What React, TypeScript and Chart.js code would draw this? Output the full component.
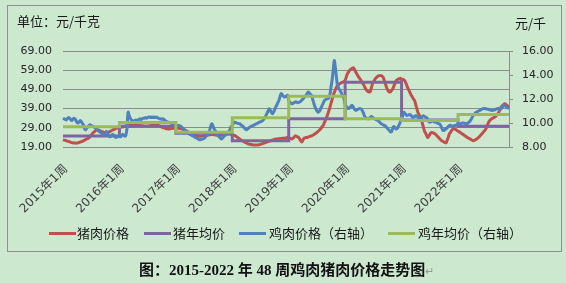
import React, { useEffect, useRef } from 'react';
import { Chart, registerables } from 'chart.js';
Chart.register(...registerables);

const years = [2015, 2016, 2017, 2018, 2019, 2020, 2021, 2022];
const weeksPerYear = [52, 52, 52, 52, 52, 52, 52, 48];

const pork2015 = [
  22.8, 22.6, 22.5, 22.3, 22.1, 21.9, 21.7, 21.5, 21.3, 21.2, 21.1, 21.1, 21.0,
  21.1, 21.2, 21.4, 21.6, 21.8, 22.0, 22.3, 22.6, 22.9, 23.2, 23.5, 23.9, 24.5,
  25.2, 25.9, 26.5, 27.0, 27.5, 27.9, 28.0, 27.8, 27.5, 27.2, 27.0, 26.8, 26.6,
  26.5, 26.5, 26.6, 26.8, 27.0, 27.3, 27.6, 27.9, 28.2, 28.5, 28.7, 28.9, 29.0,
];
const pork2016 = [
  29.0, 29.2, 29.4, 29.5, 29.6, 29.8, 29.9, 30.0, 30.0, 30.1, 30.2, 30.3, 30.4,
  30.5, 30.6, 30.8, 30.9, 31.0, 31.1, 31.2, 31.3, 31.4, 31.5, 31.6, 31.6, 31.7,
  31.6, 31.5, 31.4, 31.3, 31.2, 31.1, 31.0, 30.8, 30.6, 30.4, 30.2, 30.0, 29.7,
  29.4, 29.2, 29.0, 28.8, 28.6, 28.5, 28.4, 28.4, 28.5, 28.6, 28.7, 28.8, 28.9,
];
const pork2017 = [
  29.0, 28.9, 28.8, 28.7, 28.6, 28.5, 28.3, 28.1, 27.8, 27.5, 27.2, 26.9, 26.6,
  26.3, 26.0, 25.7, 25.5, 25.3, 25.1, 24.9, 24.8, 24.7, 24.6, 24.6, 24.7, 24.8,
  24.9, 25.0, 25.1, 25.2, 25.3, 25.4, 25.4, 25.5, 25.5, 25.4, 25.3, 25.2, 25.1,
  25.0, 25.0, 25.1, 25.2, 25.3, 25.4, 25.5, 25.6, 25.7, 25.8, 25.8, 25.7, 25.5,
];
const pork2018 = [
  25.4, 25.2, 25.0, 24.7, 24.3, 23.9, 23.5, 23.1, 22.7, 22.3, 22.0, 21.7, 21.4,
  21.1, 20.8, 20.6, 20.4, 20.3, 20.2, 20.1, 20.0, 20.0, 20.0, 20.0, 20.1, 20.2,
  20.4, 20.6, 20.8, 21.0, 21.2, 21.4, 21.6, 21.8, 22.0, 22.2, 22.4, 22.6, 22.8,
  23.0, 23.1, 23.2, 23.3, 23.3, 23.4, 23.4, 23.5, 23.5, 23.6, 23.7, 23.8, 24.0,
];
const pork2019 = [
  23.8, 23.6, 23.4, 23.2, 23.6, 24.2, 24.8, 24.6, 24.3, 24.0, 23.2, 22.3, 21.6,
  22.5, 23.5, 23.8, 24.0, 24.0, 24.2, 24.4, 24.6, 24.8, 25.1, 25.4, 25.8, 26.2,
  26.6, 27.1, 27.6, 28.2, 28.9, 29.7, 30.5, 31.8, 33.2, 34.5, 36.2, 37.9, 39.7,
  41.7, 43.8, 45.9, 47.4, 48.8, 50.2, 50.9, 51.5, 52.0, 52.3, 52.6, 52.8, 53.2,
];
const pork2020 = [
  53.5, 55.5, 57.0, 58.0, 58.8, 59.4, 59.8, 60.2, 60.0, 59.0, 57.8, 56.8, 55.8,
  55.0, 54.3, 53.2, 52.3, 51.5, 50.3, 49.2, 48.4, 47.9, 47.6, 47.8, 49.5, 51.5,
  52.8, 53.8, 54.7, 55.3, 55.8, 56.1, 56.3, 56.2, 55.9, 55.3, 53.8, 52.0, 50.3,
  49.0, 48.0, 47.6, 47.9, 48.6, 49.4, 50.8, 52.3, 53.5, 54.0, 54.4, 54.6, 54.8,
];
const pork2021 = [
  54.0, 54.3, 54.1, 53.5, 52.3, 50.8, 49.4, 48.3, 47.1, 45.9, 45.0, 44.0, 43.2,
  41.2, 39.2, 37.1, 36.0, 34.8, 33.7, 31.6, 29.6, 27.5, 26.3, 25.1, 24.0, 24.6,
  25.5, 26.4, 26.6, 26.4, 26.1, 25.8, 25.2, 24.6, 24.0, 23.4, 22.8, 22.3, 22.0,
  21.6, 21.3, 21.2, 22.5, 24.0, 25.8, 26.6, 27.5, 28.2, 28.4, 28.3, 28.1, 27.6,
];
const pork2022 = [
  27.3, 27.0, 26.6, 26.2, 25.8, 25.4, 25.0, 24.6, 24.2, 23.8, 23.5, 23.2,
  22.9, 22.5, 22.3, 22.5, 22.8, 23.1, 23.5, 24.0, 24.6, 25.2, 25.8, 26.5,
  27.2, 27.8, 28.8, 30.2, 31.6, 32.6, 33.2, 33.7, 34.0, 34.3, 34.6, 35.1,
  35.8, 36.5, 37.6, 38.9, 40.0, 40.6, 41.0, 41.5, 41.3, 40.8, 40.2, 39.6,
];
const porkAvg = [24.7, 29.8, 26.1, 22.3, 33.7, 52.7, 33.1, 29.8];

const chicken2015 = [
  10.4, 10.35, 10.3, 10.25, 10.35, 10.45, 10.4, 10.3, 10.2, 10.3, 10.4, 10.35, 10.2,
  10.05, 10.0, 10.1, 10.2, 10.1, 9.95, 9.8, 9.5, 9.45, 9.6, 9.7, 9.8, 9.85,
  9.8, 9.75, 9.7, 9.65, 9.55, 9.5, 9.4, 9.3, 9.25, 9.2, 9.1, 9.0, 8.95,
  9.1, 9.3, 9.2, 9.0, 8.85, 8.9, 9.0, 9.05, 8.95, 8.85, 8.8, 8.85, 8.9,
];
const chicken2016 = [
  8.9, 8.85, 8.95, 9.05, 9.0, 8.9, 9.0, 9.6, 10.9, 10.6, 10.4, 10.25, 10.2,
  10.15, 10.2, 10.25, 10.2, 10.25, 10.3, 10.35, 10.3, 10.35, 10.4, 10.4, 10.45, 10.4,
  10.45, 10.5, 10.5, 10.45, 10.5, 10.45, 10.5, 10.45, 10.49, 10.45, 10.4, 10.35, 10.35,
  10.3, 10.35, 10.3, 10.2, 10.15, 10.1, 10.07, 10.05, 10.0, 9.95, 9.93, 9.9, 9.85,
];
const chicken2017 = [
  9.85, 9.8, 9.78, 9.79, 9.75, 9.7, 9.6, 9.5, 9.43, 9.38, 9.3, 9.2, 9.1,
  9.05, 9.0, 8.95, 8.9, 8.85, 8.8, 8.75, 8.7, 8.65, 8.6, 8.62, 8.65, 8.67,
  8.72, 8.8, 8.9, 9.0, 9.1, 9.35, 9.7, 9.93, 9.8, 9.55, 9.4, 9.25, 9.1,
  8.95, 8.85, 8.75, 8.67, 8.75, 8.85, 8.95, 9.0, 9.05, 9.1, 9.3, 9.5, 9.7,
];
const chicken2018 = [
  9.8, 9.95, 10.07, 10.05, 10.0, 9.97, 9.95, 9.93, 9.85, 9.78, 9.7, 9.6, 9.5,
  9.43, 9.5, 9.58, 9.65, 9.7, 9.75, 9.79, 9.83, 9.88, 9.93, 9.97, 10.02, 10.07,
  10.1, 10.15, 10.2, 10.3, 10.45, 10.63, 10.8, 11.0, 11.19, 11.05, 10.9, 10.77, 10.9,
  11.1, 11.33, 11.5, 11.7, 11.89, 12.2, 12.45, 12.35, 12.25, 12.17, 12.2, 12.25, 12.3,
];
const chicken2019 = [
  11.85, 11.75, 11.65, 11.6, 11.65, 11.7, 11.75, 11.75, 11.7, 11.7, 11.75, 11.8, 11.89,
  12.0, 12.1, 12.2, 12.3, 12.45, 12.58, 12.5, 12.4, 12.3, 12.0, 11.7, 11.4, 11.2,
  11.0, 10.9, 10.95, 11.1, 11.3, 11.5, 11.7, 11.89, 11.95, 12.0, 12.03, 12.1, 12.4,
  13.0, 13.6, 14.4, 15.2, 14.6, 13.8, 13.1, 12.9, 12.73, 12.6, 12.4, 12.2, 12.0,
];
const chicken2020 = [
  11.6, 11.4, 11.3, 11.2, 11.25, 11.35, 11.47, 11.4, 11.25, 11.1, 11.05, 11.1, 11.15,
  11.2, 11.2, 11.15, 11.0, 10.8, 10.55, 10.45, 10.4, 10.35, 10.35, 10.45, 10.55, 10.5,
  10.4, 10.35, 10.3, 10.25, 10.2, 10.15, 10.05, 9.95, 9.9, 9.85, 9.8, 9.75, 9.65,
  9.55, 9.45, 9.35, 9.25, 9.3, 9.6, 9.7, 9.6, 9.5, 9.55, 9.7, 9.9, 10.1,
];
const chicken2021 = [
  10.3, 10.6, 10.9, 10.8, 10.7, 10.63, 10.65, 10.7, 10.7, 10.6, 10.5, 10.49, 10.55,
  10.6, 10.6, 10.5, 10.4, 10.35, 10.45, 10.55, 10.6, 10.55, 10.5, 10.45, 10.3, 10.15,
  10.07, 10.1, 10.15, 10.15, 10.1, 10.07, 10.05, 10.0, 9.95, 9.93, 9.8, 9.6, 9.4,
  9.37, 9.45, 9.51, 9.6, 9.7, 9.79, 9.8, 9.75, 9.75, 9.75, 9.79, 9.8, 9.85,
];
const chicken2022 = [
  9.85, 9.9, 9.93, 9.97, 10.0, 10.0, 9.97, 9.95, 9.93, 10.0, 10.07, 10.15,
  10.3, 10.45, 10.63, 10.75, 10.85, 10.9, 10.95, 11.0, 11.05, 11.1, 11.15, 11.19,
  11.2, 11.2, 11.18, 11.15, 11.15, 11.1, 11.08, 11.05, 11.05, 11.08, 11.1, 11.15,
  11.19, 11.2, 11.18, 11.15, 11.2, 11.35, 11.47, 11.45, 11.38, 11.3, 11.25, 11.2,
];
const chickenAvg = [9.68, 10.04, 9.23, 10.43, 12.22, 10.35, 10.2, 10.71];

const leftAxis = { min: 19, max: 69, step: 10 };
const rightAxis = { min: 8, max: 16, step: 2 };

const seriesNames = ['猪肉价格', '猪年均价', '鸡肉价格（右轴）', '鸡年均价（右轴）'];
const seriesColors = ['#C0504D', '#8064A2', '#4F81BD', '#9BBB59'];

const porkByYear = [pork2015, pork2016, pork2017, pork2018, pork2019, pork2020, pork2021, pork2022];
const chickenByYear = [chicken2015, chicken2016, chicken2017, chicken2018, chicken2019, chicken2020, chicken2021, chicken2022];

const labels: string[] = [];
const porkAvgSeries: number[] = [];
const chickenAvgSeries: number[] = [];
years.forEach((y, i) => {
  for (let w = 1; w <= weeksPerYear[i]; w++) {
    labels.push(`${y}年${w}周`);
    porkAvgSeries.push(porkAvg[i]);
    chickenAvgSeries.push(chickenAvg[i]);
  }
});
const porkSeries = porkByYear.flat();
const chickenSeries = chickenByYear.flat();

const yTickFont = { family: '"DejaVu Sans", "Noto Sans CJK SC", sans-serif', size: 11 };
const xTickFont = { family: '"DejaVu Sans", "Noto Sans CJK SC", sans-serif', size: 12 };

export default function App() {
  const ref = useRef<HTMLCanvasElement | null>(null);
  useEffect(() => {
    document.body.style.margin = '0';
    const chart = new Chart(ref.current!, {
      type: 'line',
      data: {
        labels,
        datasets: [
          { label: seriesNames[0], data: porkSeries, borderColor: seriesColors[0], borderWidth: 3, yAxisID: 'y', tension: 0.3, order: 3 },
          { label: seriesNames[1], data: porkAvgSeries, borderColor: seriesColors[1], borderWidth: 3, yAxisID: 'y', stepped: true, order: 2 },
          { label: seriesNames[2], data: chickenSeries, borderColor: seriesColors[2], borderWidth: 3, yAxisID: 'y1', tension: 0.3, order: 1 },
          { label: seriesNames[3], data: chickenAvgSeries, borderColor: seriesColors[3], borderWidth: 3, yAxisID: 'y1', stepped: true, order: 0 },
        ],
      },
      options: {
        animation: false,
        responsive: false,
        events: [],
        layout: { padding: { top: 51, left: 0, right: 0, bottom: 0 } },
        elements: { point: { radius: 0 } },
        plugins: { legend: { display: false }, tooltip: { enabled: false } },
        scales: {
          x: {
            type: 'category',
            grid: { display: false },
            border: { display: false },
            afterFit: (s: any) => { s.height = 136; },
            ticks: {
              autoSkip: false,
              minRotation: 45,
              maxRotation: 45,
              padding: 7,
              labelOffset: 3,
              color: '#404040',
              font: xTickFont,
              callback: (_v: any, i: number) => (i % 52 === 0 ? labels[i] : ''),
            },
          },
          y: {
            position: 'left',
            min: leftAxis.min,
            max: leftAxis.max,
            afterFit: (s: any) => { s.width = 63; },
            grid: { color: '#8c8c8c', lineWidth: 1, drawTicks: false },
            border: { display: false },
            ticks: { stepSize: leftAxis.step, padding: 11, color: '#262626', font: yTickFont, callback: (v: any) => Number(v).toFixed(2) },
          },
          y1: {
            position: 'right',
            min: rightAxis.min,
            max: rightAxis.max,
            afterFit: (s: any) => { s.width = 57; },
            grid: { drawOnChartArea: false, color: '#8c8c8c', tickLength: 4 },
            border: { display: true, color: '#8c8c8c' },
            ticks: { stepSize: rightAxis.step, padding: 9, color: '#262626', font: yTickFont, callback: (v: any) => Number(v).toFixed(2) },
          },
        },
      },
    });
    return () => chart.destroy();
  }, []);

  const legendPos = [
    { line: 49, text: 77 },
    { line: 144, text: 173 },
    { line: 239, text: 269 },
    { line: 388, text: 418 },
  ];

  return (
    <div style={{ position: 'fixed', left: 0, top: 0, width: 566, height: 283, background: '#CCE8CF', overflow: 'hidden', fontFamily: '"Noto Sans CJK SC", sans-serif' }}>
      <div style={{ position: 'absolute', left: 7, top: 5, width: 555, height: 247, boxSizing: 'border-box', border: '1px solid #909090' }} />
      <canvas ref={ref} width={566} height={283} style={{ position: 'absolute', left: 0, top: 0, width: 566, height: 283 }} />
      <div style={{ position: 'absolute', left: 17, top: 12, fontSize: 13, lineHeight: '18px', color: '#1a1a1a', whiteSpace: 'nowrap' }}>单位：元/千克</div>
      <div style={{ position: 'absolute', left: 515, top: 14, fontSize: 13, lineHeight: '18px', color: '#1a1a1a', whiteSpace: 'nowrap' }}>元/千</div>
      {seriesNames.map((n, i) => (
        <React.Fragment key={n}>
          <div style={{ position: 'absolute', left: legendPos[i].line, top: 232, width: 27, height: 3, background: seriesColors[i] }} />
          <div style={{ position: 'absolute', left: legendPos[i].text, top: 224, fontSize: 13, lineHeight: '18px', color: '#1a1a1a', whiteSpace: 'nowrap' }}>{n}</div>
        </React.Fragment>
      ))}
      <div style={{ position: 'absolute', left: 139, top: 261, fontSize: 15, lineHeight: '18px', fontWeight: 'bold', color: '#111', whiteSpace: 'nowrap', fontFamily: '"Liberation Serif", "Noto Sans CJK SC", serif' }}>
        图：2015-2022 年 48 周鸡肉猪肉价格走势图<span style={{ color: '#999', fontWeight: 'normal', fontSize: 11 }}>↵</span>
      </div>
    </div>
  );
}
